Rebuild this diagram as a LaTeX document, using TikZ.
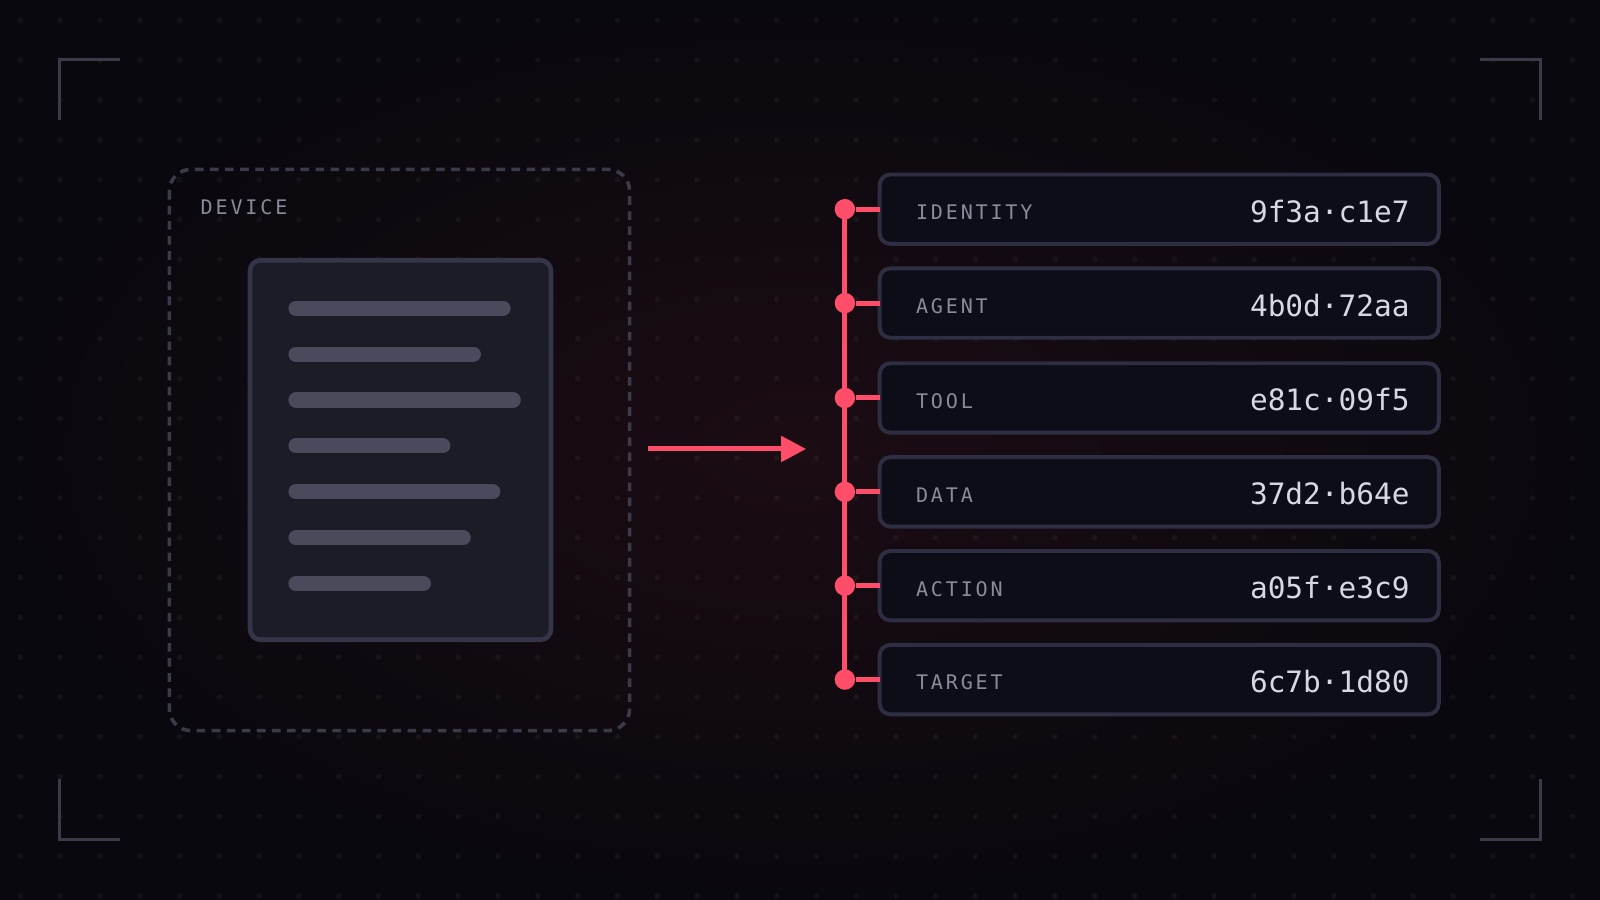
\documentclass[tikz,border=0pt]{standalone}
\usepackage{fontspec}
\setmonofont{DejaVu Sans Mono}
\newfontfamily\labelfont[LetterSpace=14]{DejaVu Sans Mono}
\newfontfamily\hashfont{DejaVu Sans Mono}
\usetikzlibrary{arrows.meta}
\definecolor{bgdark}{HTML}{09080E}
\definecolor{bgglow}{HTML}{1C0C14}
\definecolor{accent}{HTML}{FF4D6A}
\definecolor{frame}{HTML}{3A3A48}
\definecolor{card}{HTML}{1C1C26}
\definecolor{cardline}{HTML}{35354A}
\definecolor{bar}{HTML}{4A4A5C}
\definecolor{rowfill}{HTML}{0D0D18}
\definecolor{rowline}{HTML}{2E2E42}
\definecolor{muted}{HTML}{8A8A9A}
\definecolor{hashcol}{HTML}{D8D8E2}
\tikzset{
  corner/.style={draw=frame, line width=0.9pt},
  row/.style={draw=rowline, fill=rowfill, rounded corners=3pt, line width=1.1pt},
  bullet/.style={circle, fill=accent, inner sep=0pt, minimum size=0.2cm},
  tag/.style={anchor=west, text=muted, font=\labelfont\fontsize{5.6}{6}\selectfont, inner sep=0pt},
  hash/.style={anchor=east, text=hashcol, font=\hashfont\fontsize{8.2}{9}\selectfont, inner sep=0pt},
}
\begin{document}
\begin{tikzpicture}[x=0.01cm, y=-0.01cm]
\useasboundingbox (0,0) rectangle (1568,882);
% background
\fill[bgdark] (0,0) rectangle (1568,882);
\shade[inner color=bgglow, outer color=bgdark] (0,0) rectangle (1568,882);
\foreach \i in {0,...,40} \foreach \j in {0,...,22}
  \fill[white, opacity=0.045] (20+39*\i, 20+39*\j) circle (0.8pt);
% corner brackets
\draw[corner] (58,118) -- (58,58) -- (118,58);
\draw[corner] (1450,58) -- (1510,58) -- (1510,118);
\draw[corner] (58,763) -- (58,823) -- (118,823);
\draw[corner] (1450,823) -- (1510,823) -- (1510,763);
% device
\draw[frame, dash pattern=on 2.4pt off 1.8pt, line width=1pt, rounded corners=6pt] (166,166) rectangle (617,716);
\node[tag] (devlabel) at (196,203) {DEVICE};
\draw[cardline, fill=card, line width=1.3pt, rounded corners=3pt] (245,255) rectangle (540,627);
\foreach \y/\e in {302/499, 347/470, 392/509, 437/440, 482/489, 527/460, 572/421}
  \draw[bar, line width=4.2pt, line cap=round] (290,\y) -- (\e-6,\y);
% arrow
\coordinate (arrstart) at (635,440);
\coordinate (arrend) at (790,440);
\draw[accent, line width=1.4pt, -{Triangle[length=7pt, width=7pt]}] (arrstart) -- (arrend);
% spine
\coordinate (spinetop) at (828,205);
\coordinate (spinebot) at (828,666);
\draw[accent, line width=1.4pt] (spinetop) -- (spinebot);
\foreach \y/\name/\key/\val in {205/r1/IDENTITY/9f3a·c1e7, 297/r2/AGENT/4b0d·72aa, 390/r3/TOOL/e81c·09f5, 482/r4/DATA/37d2·b64e, 574/r5/ACTION/a05f·e3c9, 666/r6/TARGET/6c7b·1d80}{
  \draw[row] (862,\y-34) rectangle (1410,\y+34);
  \node[bullet] (\name dot) at (828,\y) {};
  \coordinate (\name) at (862,\y);
  \draw[accent, line width=1.4pt] (\name dot) -- (\name);
  \node[tag] (\name key) at (897,\y+3) {\key};
  \node[hash] (\name val) at (1382,\y+2) {\val};
}
\end{tikzpicture}
\end{document}
